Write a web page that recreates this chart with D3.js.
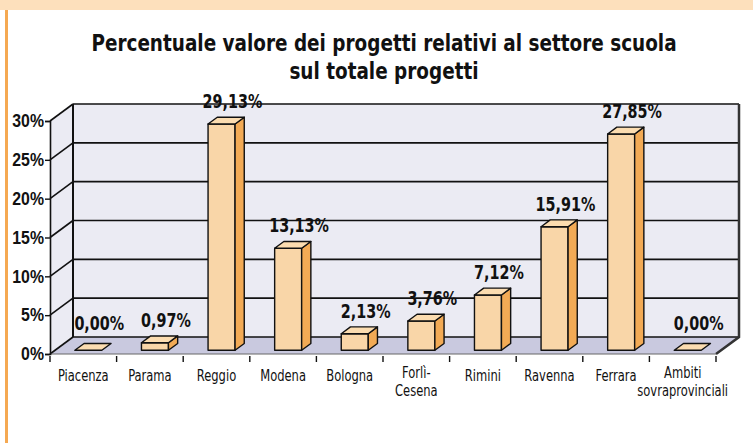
<!DOCTYPE html>
<html>
<head>
<meta charset="utf-8">
<script src="https://cdn.jsdelivr.net/npm/d3@7.9.0/dist/d3.min.js"></script>
<style>
  body { margin: 0; background: #fff; }
  svg { display: block; }
  .narrow { font-family: "Liberation Sans Narrow", "DejaVu Sans Condensed", "Roboto Condensed", sans-serif; }
</style>
</head>
<body>
<div id="chart"></div>
<script>
const categories = ['Piacenza', 'Parama', 'Reggio', 'Modena', 'Bologna', 'Forlì-\nCesena', 'Rimini', 'Ravenna', 'Ferrara', 'Ambiti\nsovraprovinciali'];
const values = [0.00, 0.97, 29.13, 13.13, 2.13, 3.76, 7.12, 15.91, 27.85, 0.00];
const valueLabels = ['0,00%', '0,97%', '29,13%', '13,13%', '2,13%', '3,76%', '7,12%', '15,91%', '27,85%', '0,00%'];
const yTicks = [0, 5, 10, 15, 20, 25, 30];
const titleLines = ['Percentuale valore dei progetti relativi al settore scuola', 'sul totale progetti'];

const width = 753;
const height = 443;

// depth of the 3d box
const depthX = 23;
const depthY = -17;
// bar sits inside the depth between these fractions
const f0 = 0.22;
const f1 = 0.62;

// squeeze text horizontally, the original uses a condensed face
function condense(sel, k) {
  sel.each(function () {
    const w = this.getComputedTextLength();
    d3.select(this).attr('textLength', w * k).attr('lengthAdjust', 'spacingAndGlyphs');
  });
}

const svg = d3.select('#chart')
  .append('svg')
  .attr('width', width)
  .attr('height', height)
  .attr('class', 'narrow');

// top band + left rule
svg.append('rect').attr('x', 0).attr('y', 0).attr('width', width).attr('height', 10).attr('fill', '#fde0bc');
svg.append('rect').attr('x', 5).attr('y', 10).attr('width', 3).attr('height', height - 10).attr('fill', '#f5a952');

const xScale = d3.scaleBand().domain(categories).range([50, 716]);
const yScale = d3.scaleLinear().domain([0, 30]).range([354, 121]);

const x0 = xScale.range()[0];
const x1 = xScale.range()[1];
const yb = yScale(0);
const yt = yScale(30);

// back wall
svg.append('rect')
  .attr('x', x0 + depthX).attr('y', yt + depthY)
  .attr('width', x1 - x0).attr('height', yb - yt)
  .attr('fill', '#ebebf3');

// left wall
svg.append('path')
  .attr('d', `M${x0},${yb}L${x0},${yt}L${x0 + depthX},${yt + depthY}L${x0 + depthX},${yb + depthY}Z`)
  .attr('fill', '#ebebf3');

// floor
svg.append('path')
  .attr('d', `M${x0},${yb}L${x1},${yb}L${x1 + depthX},${yb + depthY}L${x0 + depthX},${yb + depthY}Z`)
  .attr('fill', '#c9c9df');

// gridlines on back and left walls
const grid = svg.append('g').attr('stroke', '#111').attr('stroke-width', 1.6).attr('fill', 'none');
yTicks.forEach((t) => {
  const yy = yScale(t);
  grid.append('line')
    .attr('x1', x0 + depthX).attr('x2', x1 + depthX)
    .attr('y1', yy + depthY).attr('y2', yy + depthY);
  grid.append('line')
    .attr('x1', x0).attr('y1', yy)
    .attr('x2', x0 + depthX).attr('y2', yy + depthY);
});
grid.append('line')
  .attr('x1', x0 + depthX).attr('x2', x0 + depthX)
  .attr('y1', yt + depthY).attr('y2', yb + depthY)
  .attr('stroke-width', 2);
grid.append('path')
  .attr('d', `M${x1 + depthX},${yt + depthY}L${x1 + depthX},${yb + depthY}L${x1},${yb}`)
  .attr('stroke', '#333').attr('stroke-width', 2.5);
grid.append('line')
  .attr('x1', x0).attr('x2', x1).attr('y1', yb).attr('y2', yb)
  .attr('stroke', '#666').attr('stroke-width', 1);

// bars
const barW = 27;
const bw = xScale.bandwidth();
const bdx = (f1 - f0) * depthX;
const bdy = (f1 - f0) * depthY;

const bars = svg.append('g')
  .attr('stroke', '#111').attr('stroke-width', 1.4).attr('stroke-linejoin', 'round');
const labels = svg.append('g');

categories.forEach((c, i) => {
  const v = values[i];
  const left = xScale(c) + (bw - barW) / 2 + f0 * depthX;
  const right = left + barW;
  const bottom = yScale(0) + f0 * depthY;
  const top = yScale(v) + f0 * depthY;
  const g = bars.append('g');
  if (v > 0) {
    g.append('rect')
      .attr('x', left).attr('y', top)
      .attr('width', barW).attr('height', bottom - top)
      .attr('fill', '#f9d6a8');
    g.append('path')
      .attr('d', `M${right},${bottom}L${right},${top}L${right + bdx},${top + bdy}L${right + bdx},${bottom + bdy}Z`)
      .attr('fill', '#f2aa55');
  }
  g.append('path')
    .attr('d', `M${left},${top}L${right},${top}L${right + bdx},${top + bdy}L${left + bdx},${top + bdy}Z`)
    .attr('fill', '#fbdcb0');

  // value label
  labels.append('text')
    .attr('x', xScale(c) + bw / 2 + 16)
    .attr('y', top + bdy - (v > 0 ? 16 : 20))
    .attr('dy', '0.36em')
    .attr('text-anchor', 'middle')
    .attr('font-size', 19)
    .attr('font-weight', 'bold')
    .attr('fill', '#111')
    .text(valueLabels[i]);
});
condense(labels.selectAll('text'), 0.84);

// y axis
const yAxis = svg.append('g')
  .attr('transform', `translate(${x0},0)`)
  .call(d3.axisLeft(yScale).tickValues(yTicks).tickFormat((d) => d + '%').tickSize(5).tickPadding(1));
yAxis.select('.domain').attr('stroke', '#111').attr('stroke-width', 1.6);
yAxis.selectAll('.tick line').attr('stroke', '#111').attr('stroke-width', 1.4);
yAxis.selectAll('text')
  .attr('font-family', null)
  .attr('font-size', 18)
  .attr('font-weight', 'bold')
  .attr('fill', '#111');
condense(yAxis.selectAll('text'), 0.88);

// x ticks at band edges
const edges = categories.map((c) => xScale(c)).concat([x1]);
svg.append('g').selectAll('line')
  .data(edges)
  .join('line')
  .attr('x1', (d) => d).attr('x2', (d) => d)
  .attr('y1', yb + 2).attr('y2', yb + 8)
  .attr('stroke', '#111').attr('stroke-width', 1.4);

// category labels
const catG = svg.append('g');
categories.forEach((c) => {
  const lines = c.split('\n');
  lines.forEach((l, j) => {
    catG.append('text')
      .attr('x', xScale(c) + bw / 2)
      .attr('y', (lines.length > 1 ? 378 : 381) + j * 18)
      .attr('text-anchor', 'middle')
      .attr('font-size', 16)
      .attr('fill', '#111')
      .text(l);
  });
});
condense(catG.selectAll('text'), 0.8);

// title
const titleG = svg.append('g');
titleG.selectAll('text')
  .data(titleLines)
  .join('text')
  .attr('x', 384)
  .attr('y', (d, i) => 51 + i * 28)
  .attr('text-anchor', 'middle')
  .attr('font-size', 23)
  .attr('font-weight', 'bold')
  .attr('fill', '#111')
  .text((d) => d);
condense(titleG.selectAll('text'), 0.89);
</script>
</body>
</html>
